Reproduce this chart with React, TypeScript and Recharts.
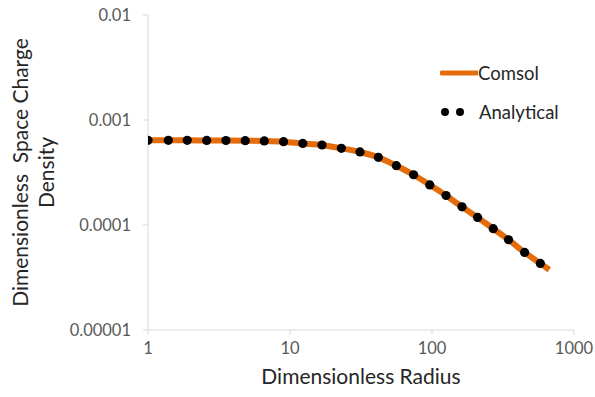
import {
  ComposedChart,
  Line,
  Scatter,
  XAxis,
  YAxis,
  Label,
} from "recharts";

const radius = [
  1, 1.39, 1.89, 2.59, 3.54, 4.84, 6.59, 9.01, 12.3, 16.8, 23.0, 31.1, 41.9,
  56.1, 74.2, 96.5, 125.6, 162.6, 209.5, 270, 346, 449, 579,
];
const analytical = [
  6.4e-4, 6.4e-4, 6.4e-4, 6.39e-4, 6.38e-4, 6.36e-4, 6.32e-4, 6.22e-4, 5.98e-4,
  5.78e-4, 5.37e-4, 4.96e-4, 4.41e-4, 3.67e-4, 3.01e-4, 2.41e-4, 1.91e-4,
  1.49e-4, 1.18e-4, 9.22e-5, 7.24e-5, 5.48e-5, 4.31e-5,
];
const comsolRadius = [...radius, 670];
const comsol = [...analytical, 3.75e-5];

const xTicks = [1, 10, 100, 1000];
const yTicks = [0.00001, 0.0001, 0.001, 0.01];
const yTickLabels = ["0.00001", "0.0001", "0.001", "0.01"];

const comsolData = comsolRadius.map((r, i) => ({ r, v: comsol[i] }));
const analyticalData = radius.map((r, i) => ({ r, v: analytical[i] }));

const FONT = "Lato, 'Open Sans', sans-serif";
const ORANGE = "#E46C0A";
const AXIS = "#D9D9D9";
const TEXT = "#595959";

function YTitle({ viewBox }: any) {
  const cy = viewBox.y + viewBox.height / 2;
  return (
    <text
      transform={`translate(0, ${cy}) rotate(-90)`}
      textAnchor="middle"
      fontFamily={FONT}
      fontSize={21}
      fill="#262626"
    >
      <tspan x={0} y={28}>{"Dimensionless\u00a0 Space Charge"}</tspan>
      <tspan x={0} y={54}>Density</tspan>
    </text>
  );
}

// legend drawn as an overlay so it does not eat into the plot area
function LegendBox() {
  return (
    <div
      style={{
        position: "absolute",
        left: 440,
        top: 60,
        fontFamily: FONT,
        fontSize: 18.5,
        color: "#262626",
      }}
    >
      <div style={{ display: "flex", alignItems: "center", height: 26 }}>
        <svg width={38} height={10}>
          <line x1={2} y1={5} x2={37} y2={5} stroke={ORANGE} strokeWidth={5} strokeLinecap="round" />
        </svg>
        <span>Comsol</span>
      </div>
      <div style={{ display: "flex", alignItems: "center", height: 26, marginTop: 13 }}>
        <svg width={39} height={10}>
          <circle cx={5} cy={5} r={4} fill="#000" />
          <circle cx={20} cy={5} r={4} fill="#000" />
        </svg>
        <span>Analytical</span>
      </div>
    </div>
  );
}

export default function App() {
  return (
    <div style={{ position: "absolute", left: 0, top: 0, width: 595, height: 397, background: "#fff" }}>
      <ComposedChart
        width={595}
        height={397}
        margin={{ top: 15, right: 21, left: 0, bottom: 36 }}
      >
        <XAxis
          dataKey="r"
          type="number"
          scale="log"
          domain={[1, 1000]}
          ticks={xTicks}
          allowDataOverflow
          height={31}
          axisLine={{ stroke: AXIS }}
          tickLine={{ stroke: AXIS }}
          tickSize={5}
          tickMargin={7}
          tick={{ fill: TEXT, fontSize: 16.5, fontFamily: FONT }}
        >
          <Label
            value="Dimensionless Radius"
            position="bottom"
            offset={8}
            style={{ fontFamily: FONT, fontSize: 21, fill: "#262626" }}
          />
        </XAxis>
        <YAxis
          dataKey="v"
          type="number"
          scale="log"
          domain={[0.00001, 0.01]}
          ticks={yTicks}
          allowDataOverflow
          width={148}
          axisLine={{ stroke: AXIS }}
          tickLine={{ stroke: AXIS }}
          tickSize={5}
          tickMargin={12}
          tickFormatter={(v: number) => yTickLabels[yTicks.indexOf(v)] ?? String(v)}
          tick={{ fill: TEXT, fontSize: 16.5, fontFamily: FONT }}
        >
          <Label content={<YTitle />} />
        </YAxis>
        <Line
          data={comsolData}
          dataKey="v"
          name="Comsol"
          type="monotone"
          stroke={ORANGE}
          strokeWidth={6}
          dot={false}
          activeDot={false}
          isAnimationActive={false}
        />
        <Scatter
          data={analyticalData}
          dataKey="v"
          name="Analytical"
          fill="#000"
          shape={(p: any) => <circle cx={p.cx} cy={p.cy} r={4.6} fill="#000" />}
          isAnimationActive={false}
        />
      </ComposedChart>
      <LegendBox />
    </div>
  );
}
